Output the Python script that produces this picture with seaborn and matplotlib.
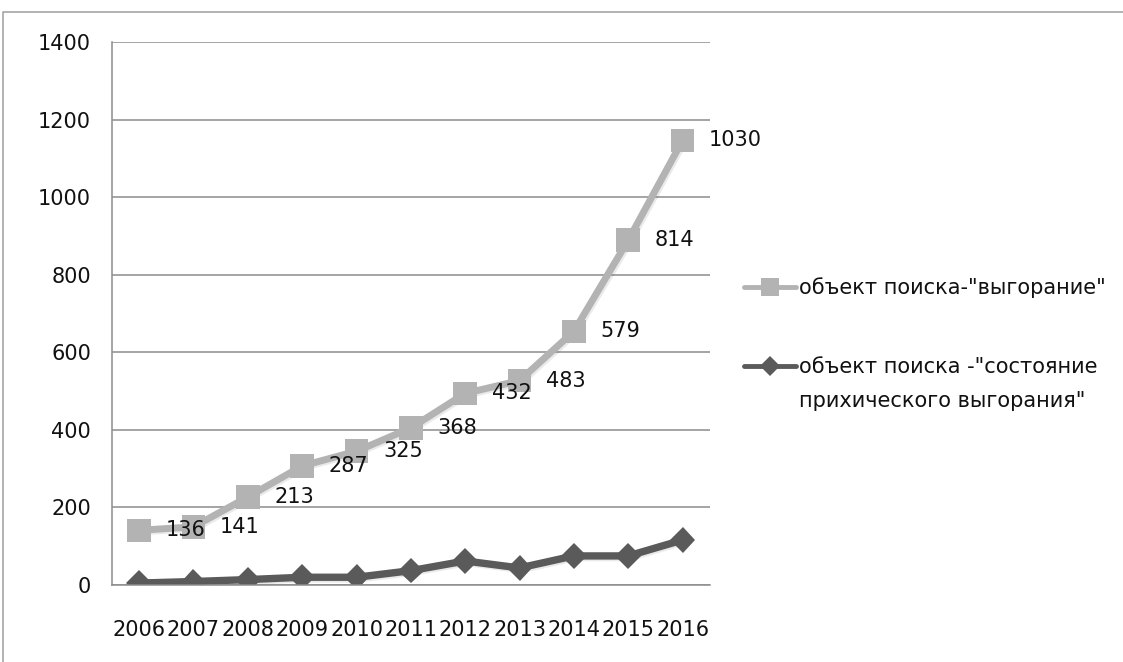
import numpy as np
import seaborn as sns
import matplotlib.pyplot as plt
import matplotlib.patheffects as pe
from matplotlib.lines import Line2D

years = ["2006", "2007", "2008", "2009", "2010", "2011", "2012", "2013", "2014", "2015", "2016"]
# object "выгорание" (labels show these values, line is stacked on top of the second series)
vygoranie = [136, 141, 213, 287, 325, 368, 432, 483, 579, 814, 1030]
# object "состояние психического выгорания"
sostoyanie = [5, 9, 14, 20, 20, 37, 62, 44, 75, 75, 116]

label_a = 'объект поиска-"выгорание"'
label_b = 'объект поиска -"состояние\nприхического выгорания"'

LIGHT = "#b3b3b3"
DARK = "#5a5a5a"
GRID = "#8c8c8c"

sns.set_style("white")
plt.rcParams["font.family"] = ["DejaVu Sans"]
plt.rcParams["font.size"] = 15
plt.rcParams["text.color"] = "#111111"
plt.rcParams["xtick.color"] = "#111111"
plt.rcParams["ytick.color"] = "#111111"

fig = plt.figure(figsize=(11.23, 6.62), dpi=100)
ax = fig.add_axes([0.0997, 0.1163, 0.5323, 0.8203])

x = np.arange(len(years))
stacked = np.add(vygoranie, sostoyanie)
shadow = [pe.SimpleLineShadow(offset=(1.2, -1.2), alpha=0.12, shadow_color="#555555"), pe.Normal()]

sns.lineplot(x=x, y=stacked, ax=ax, color=LIGHT, lw=5, marker="s", markersize=17,
             markeredgewidth=0, label=label_a, path_effects=shadow)
sns.lineplot(x=x, y=sostoyanie, ax=ax, color=DARK, lw=5.3, marker="D", markersize=13,
             markeredgewidth=0, label=label_b, path_effects=shadow)

for xi, yi, v in zip(x, stacked, vygoranie):
    ax.annotate(str(v), (xi, yi), xytext=(19, 0), textcoords="offset points",
                ha="left", va="center", fontsize=15, color="#111111")

ax.set_xlim(-0.5, len(years) - 0.5)
ax.set_ylim(0, 1400)
ax.set_yticks(range(0, 1401, 200))
ax.set_xticks(x)
ax.set_xticklabels(years)
ax.set_xticks(np.arange(-0.5, len(years)), minor=True)
ax.tick_params(axis="x", which="major", length=0, pad=25, labelsize=15)
ax.tick_params(axis="x", which="minor", length=7, width=1, color=GRID, direction="out")
ax.tick_params(axis="y", length=5, width=1, color=GRID, pad=10, labelsize=15)
ax.yaxis.grid(True, color=GRID, lw=1.1)
ax.set_axisbelow(True)
for side in ["top", "right"]:
    ax.spines[side].set_visible(False)
for side in ["left", "bottom"]:
    ax.spines[side].set_color(GRID)
    ax.spines[side].set_linewidth(1.1)
ax.set_xlabel("")
ax.set_ylabel("")

ax.get_legend().remove()
handles, labels = ax.get_legend_handles_labels()
leg = fig.legend(handles, labels, loc="upper left", bbox_to_anchor=(0.646, 0.609),
                 frameon=False, handlelength=2.5, handletextpad=0.15, labelspacing=2.8,
                 fontsize=15, markerscale=0.75)
for t in leg.get_texts():
    t.set_linespacing(1.9)
for ln in leg.get_lines():
    ln.set_linewidth(3.5)
    ln.set_path_effects([])
# keep the second handle level with the first line of its two-line label
ln2 = leg.get_lines()[1]
ln2.set_ydata(np.asarray(ln2.get_ydata()) + 13.5)

# outer chart frame
fig.add_artist(Line2D([3 / 1123, 3 / 1123, 1.0], [0, 1 - 12 / 662, 1 - 12 / 662],
                      transform=fig.transFigure, color="#a6a6a6", lw=1.2))

fig.savefig("out.png", dpi=100)
